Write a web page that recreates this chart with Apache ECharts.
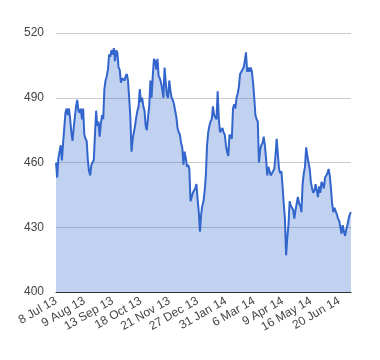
<!DOCTYPE html>
<html>
<head>
<meta charset="utf-8">
<script src="https://cdn.jsdelivr.net/npm/echarts@6/dist/echarts.min.js"></script>
<style>html,body{margin:0;padding:0;background:#fff}#c{width:380px;height:360px}</style>
</head>
<body>
<div id="c"></div>
<script>
// Tick labels shown every 24 points along the category axis
var tickLabels = ['8 Jul 13','9 Aug 13','13 Sep 13','18 Oct 13','21 Nov 13','27 Dec 13','31 Jan 14','6 Mar 14','9 Apr 14','16 May 14','20 Jun 14'];
var labelStep = 24;
var yTicks = [400, 430, 460, 490, 520];
// Series values (one per trading day)
var values = [
460,453,462,465,468,461,469,476,483,485,
482,485,480,474,470,476,481,486,489,484,
483,485,480,485,473,471,470,461,456,454,
459,460,461,461,484,477,479,472,478,482,
480,494,498,500,503,510,509,512,510,513,
507,512,511,504,503,497,499,499,498,500,
501,498,490,481,465,471,474,477,481,484,
486,494,488,490,486,484,477,475,481,486,
498,490,500,508,507,503,508,500,499,497,
494,490,504,497,491,490,498,493,490,489,
487,484,481,476,474,473,469,467,459,465,
462,458,459,457,442,444,446,447,448,450,
443,437,428,436,440,442,447,454,468,474,
477,479,480,486,482,481,480,493,480,474,
475,476,474,473,468,465,463,473,472,471,
485,487,485,490,492,495,501,501,503,504,
507,511,502,504,502,504,502,497,490,482,
480,479,460,466,468,469,472,468,462,454,
458,456,454,454,456,457,463,471,464,457,
455,456,449,441,434,417,425,431,442,440,
439,438,434,438,441,444,441,440,437,450,
455,458,467,463,460,457,451,448,446,447,
450,447,444,449,446,451,450,448,453,454,
455,457,454,448,441,437,439,439,436,434,
433,433,427,431,428,426,429,431,434,436,
437
];
var categories = values.map(function(_, i){
  return (i % labelStep === 0 && tickLabels[i / labelStep]) ? tickLabels[i / labelStep] : '';
});
var chart = echarts.init(document.getElementById('c'));
chart.setOption({
  animation: false,
  grid: {left: 56, right: 29, top: 33, bottom: 68},
  xAxis: {
    type: 'category',
    data: categories,
    boundaryGap: false,
    axisLine: {show: true, lineStyle: {color: '#333', width: 1}},
    axisTick: {show: false},
    axisLabel: {
      interval: labelStep - 1,
      rotate: 30,
      color: '#444',
      fontFamily: 'Liberation Sans, Arial, sans-serif',
      fontSize: 12,
      margin: 8
    },
    splitLine: {show: false},
    z: 3
  },
  yAxis: {
    type: 'value',
    min: yTicks[0],
    max: yTicks[yTicks.length - 1],
    interval: yTicks[1] - yTicks[0],
    axisLine: {show: false},
    axisTick: {show: false},
    axisLabel: {
      color: '#444',
      fontFamily: 'Liberation Sans, Arial, sans-serif',
      fontSize: 12,
      margin: 12
    },
    splitLine: {lineStyle: {color: '#cccccc', width: 1}}
  },
  series: [{
    type: 'line',
    data: values,
    symbol: 'none',
    lineStyle: {color: '#3366cc', width: 2},
    areaStyle: {color: '#3366cc', opacity: 0.3, origin: 'start'},
    z: 1
  }]
});
</script>
</body>
</html>
